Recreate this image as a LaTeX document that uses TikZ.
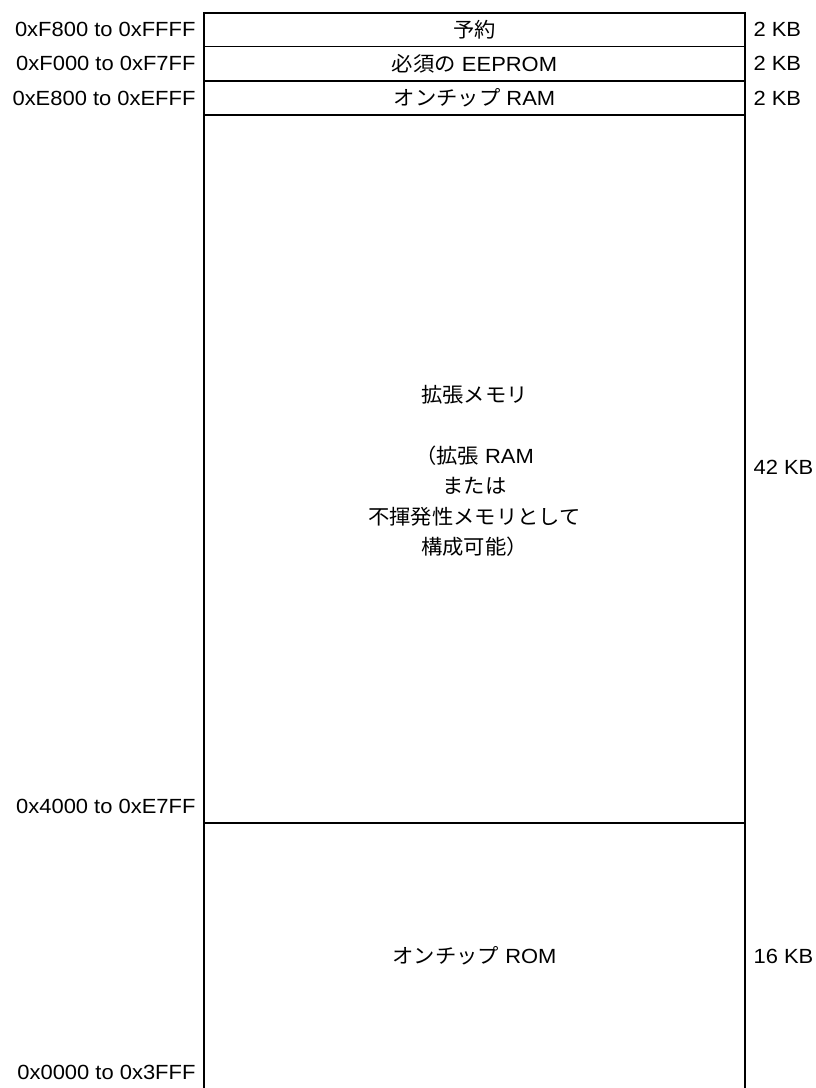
\documentclass[tikz,border=0pt]{standalone}
\usepackage{fontspec}
\setmainfont[FakeStretch=1.07]{Liberation Sans}
\newfontfamily\cjk[FakeStretch=1.04]{Noto Sans CJK JP}
\begin{document}
\begin{tikzpicture}[x=1pt,y=-1pt,line width=1.1pt,
  every node/.style={font=\fontsize{20.5pt}{30.4pt}\selectfont},
  region/.style={draw, minimum width=541pt, inner sep=0pt, outer sep=0pt, anchor=north west, align=center},
  addr/.style={anchor=east, inner sep=0pt},
  size/.style={anchor=west, inner sep=0pt},
  label/.style={inner sep=0pt, align=center}]
\useasboundingbox (0,0) rectangle (816,1088);
% regions
\node[region, minimum height=33.5pt] (r1) at (204,13) {};
\node[region, minimum height=34.5pt] (r2) at (204,46.5) {};
\node[region, minimum height=34pt] (r3) at (204,81) {};
\node[region, minimum height=708pt] (r4) at (204,115) {};
\coordinate (b1) at (204,1100);
\coordinate (b2) at (745,1100);
\draw (r4.south west) -- (b1);
\draw (r4.south east) -- (b2);
% region texts
\node[label] (t1) at (474.5,29.8) {{\cjk 予約}};
\node[label] (t2) at (474.5,63.7) {{\cjk 必須の} EEPROM};
\node[label] (t3) at (474.5,98) {{\cjk オンチップ} RAM};
\node[label] (t4) at (474.5,471) {{\cjk 拡張メモリ}\\ \mbox{}\\{\cjk （拡張} RAM\\{\cjk または}\\{\cjk 不揮発性メモリとして}\\{\cjk 構成可能）}};
\node[label] (t5) at (474.5,956) {{\cjk オンチップ} ROM};
% address labels
\node[addr] (a1) at (196,29.8) {0xF800 to 0xFFFF};
\node[addr] (a2) at (196,63.7) {0xF000 to 0xF7FF};
\node[addr] (a3) at (196,98) {0xE800 to 0xEFFF};
\node[addr] (a4) at (196,806) {0x4000 to 0xE7FF};
\node[addr] (a5) at (196,1072) {0x0000 to 0x3FFF};
% size labels
\node[size] (s1) at (753,29.8) {2 KB};
\node[size] (s2) at (753,63.7) {2 KB};
\node[size] (s3) at (753,98) {2 KB};
\node[size] (s4) at (753,467) {42 KB};
\node[size] (s5) at (753,956) {16 KB};
\end{tikzpicture}
\end{document}
